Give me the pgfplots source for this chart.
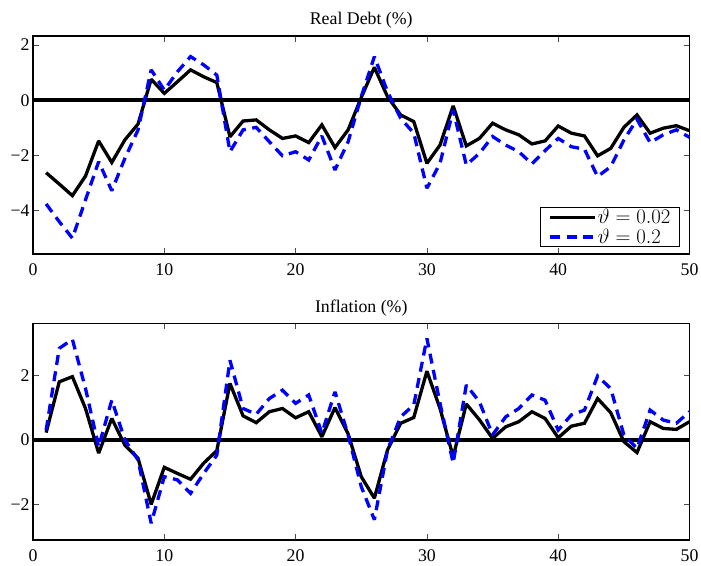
\documentclass[border=0pt]{standalone}
\usepackage{fontspec}
\setmainfont{Liberation Serif}
\usepackage{pgfplots}
\pgfplotsset{compat=1.18}
\usepackage{pgfplotstable}

\pgfplotstableread{
k a b
1 -2.62 -3.75
2 -3.03 -4.39
3 -3.45 -4.99
4 -2.74 -3.60
5 -1.47 -2.22
6 -2.25 -3.27
7 -1.43 -2.10
8 -0.86 -1.07
9 0.76 1.10
10 0.25 0.37
11 0.67 1.03
12 1.10 1.58
13 0.85 1.28
14 0.64 0.91
15 -1.32 -1.86
16 -0.75 -1.07
17 -0.71 -0.98
18 -1.07 -1.50
19 -1.38 -2.01
20 -1.29 -1.86
21 -1.53 -2.16
22 -0.89 -1.29
23 -1.71 -2.52
24 -1.07 -1.50
25 0.10 0.13
26 1.19 1.58
27 0.13 0.31
28 -0.53 -0.65
29 -0.77 -1.19
30 -2.28 -3.18
31 -1.62 -2.28
32 -0.20 -0.35
33 -1.65 -2.34
34 -1.38 -1.92
35 -0.83 -1.31
36 -1.07 -1.62
37 -1.25 -1.86
38 -1.58 -2.30
39 -1.47 -1.82
40 -0.93 -1.38
41 -1.19 -1.68
42 -1.29 -1.77
43 -2.01 -2.76
44 -1.74 -2.40
45 -0.98 -1.44
46 -0.53 -0.69
47 -1.19 -1.53
48 -1.01 -1.25
49 -0.92 -1.07
50 -1.10 -1.34
}\debt

\pgfplotstableread{
k a b
1 0.23 0.31
2 1.81 2.85
3 1.97 3.13
4 0.98 1.60
5 -0.41 -0.21
6 0.67 1.24
7 -0.16 0.00
8 -0.57 -0.62
9 -2.00 -2.59
10 -0.85 -1.14
11 -1.04 -1.24
12 -1.22 -1.66
13 -0.72 -1.04
14 -0.33 -0.47
15 1.76 2.48
16 0.75 0.98
17 0.54 0.80
18 0.88 1.29
19 0.98 1.55
20 0.69 1.14
21 0.88 1.40
22 0.10 0.21
23 1.01 1.50
24 0.19 0.16
25 -1.14 -1.45
26 -1.81 -2.48
27 -0.31 -0.31
28 0.52 0.72
29 0.70 1.09
30 2.14 3.16
31 0.98 1.14
32 -0.52 -0.72
33 1.12 1.71
34 0.63 1.19
35 0.05 0.16
36 0.41 0.72
37 0.57 0.98
38 0.88 1.40
39 0.67 1.24
40 0.07 0.31
41 0.43 0.78
42 0.52 0.93
43 1.29 1.99
44 0.85 1.60
45 -0.05 0.16
46 -0.39 -0.26
47 0.57 0.93
48 0.36 0.62
49 0.33 0.52
50 0.57 0.88
}\infl

\pgfplotsset{
  myax/.style={
    scale only axis,
    width=656.5pt,
    xmin=0, xmax=50,
    xtick={0,10,20,30,40,50},
    xticklabels={0,10,20,30,40,50},
    tick align=inside,
    tickpos=both,
    major tick length=6pt,
    axis line style={line width=1.3pt},
    every tick/.style={line width=0.8pt, black!70},
    tick label style={font=\fontsize{17.8}{20}\selectfont},
    xticklabel style={yshift=-6pt},
    title style={font=\fontsize{17.8}{20}\selectfont, at={(0.5,1)}, anchor=base, yshift=5pt},
    clip=true,
  },
  blk/.style={black, line width=3.3pt, line join=miter, miter limit=2},
  blu/.style={blue, line width=3.3pt, dash pattern=on 10pt off 6.5pt, line join=miter, miter limit=2},
}

\begin{document}
\begin{tikzpicture}[x=1pt,y=1pt]
\path[use as bounding box] (0,0) rectangle (701,565);

\begin{axis}[myax,
  at={(33pt,311pt)}, anchor=south west,
  height=218pt,
  ymin=-5.56, ymax=2.325,
  ytick={-4,-2,0,2},
  yticklabels={−4,−2,0,2},
  title={Real Debt (\%)},
  legend style={at={(0.9855,0.032)}, anchor=south east,
    font=\fontsize{20.5}{20.5}\selectfont, draw=black, line width=1pt,
    inner xsep=8pt, inner ysep=0.5pt, row sep=2pt,
    nodes={inner sep=1pt}},
  legend cell align=left,
  legend image code/.code={\draw[#1] (0pt,0pt) -- (45pt,0pt);},
]
\addplot[forget plot, black, line width=4pt] coordinates {(0,0) (50,0)};
\addplot[blk] table[x=k,y=a] {\debt};
\addlegendentry{$\vartheta = 0.02$}
\addplot[blu] table[x=k,y=b] {\debt};
\addlegendentry{$\vartheta = 0.2$}
\end{axis}

\begin{axis}[myax,
  at={(33pt,25pt)}, anchor=south west,
  height=216.7pt,
  ymin=-3.11, ymax=3.63,
  ytick={-2,0,2},
  yticklabels={−2,0,2},
  title={Inflation (\%)},
]
\addplot[black, line width=4pt] coordinates {(0,0) (50,0)};
\addplot[blk] table[x=k,y=a] {\infl};
\addplot[blu] table[x=k,y=b] {\infl};
\end{axis}
\end{tikzpicture}
\end{document}
